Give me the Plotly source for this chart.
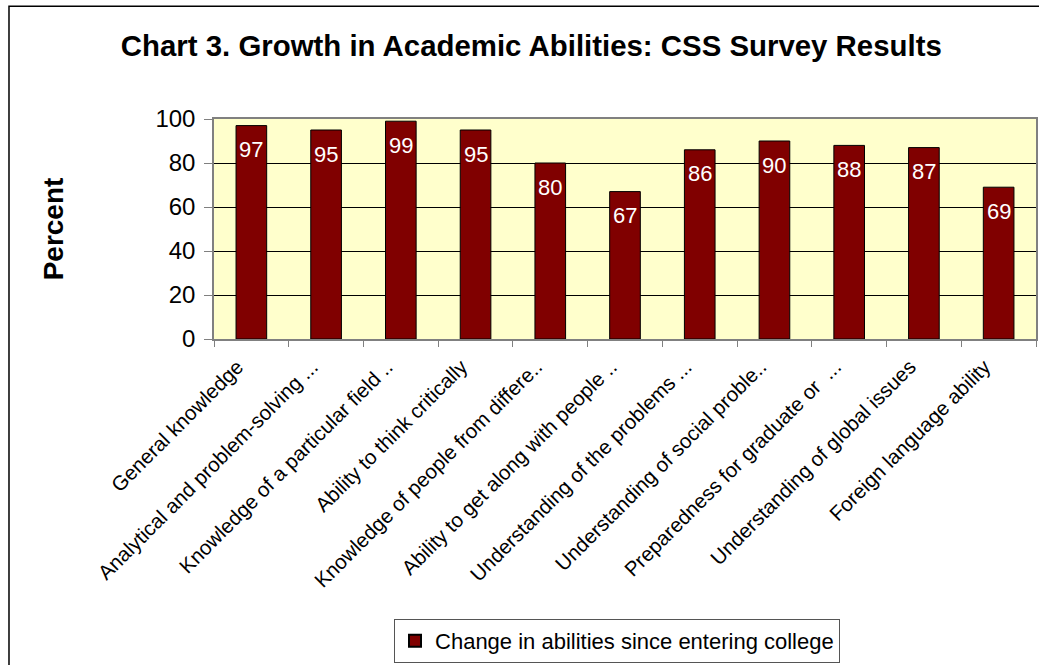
import plotly.graph_objects as go

# Survey categories (labels shortened as on the axis) and percentages
categories = [
    "General knowledge",
    "Analytical and problem-solving ...",
    "Knowledge of a particular field ..",
    "Ability to think critically",
    "Knowledge of people from differe..",
    "Ability to get along with people ..",
    "Understanding of the problems ...",
    "Understanding of social proble..",
    "Preparedness for graduate or  ...",
    "Understanding of global issues",
    "Foreign language ability",
]
percent = [97, 95, 99, 95, 80, 67, 86, 90, 88, 87, 69]
y_ticks = [0, 20, 40, 60, 80, 100]

FONT = "Liberation Sans, Arial, sans-serif"

fig = go.Figure()
fig.add_trace(go.Bar(
    x=categories,
    y=percent,
    name="Change in abilities since entering college",
    marker=dict(color="#800000", line=dict(color="#000000", width=1)),
    width=0.41,
))

# Value labels sitting just inside the top of each bar
for c, v in zip(categories, percent):
    fig.add_annotation(
        x=c, y=v, text=str(v), showarrow=False,
        yanchor="middle", yshift=-24,
        font=dict(family=FONT, size=22, color="#ffffff"),
    )

# Outer chart frame
fig.add_shape(
    type="rect", xref="paper", yref="paper",
    x0=-0.2494, x1=1.06, y0=-1.7, y1=1.513,
    line=dict(color="#000000", width=1.5), fillcolor="rgba(0,0,0,0)",
    layer="below",
)

fig.update_layout(
    width=1039, height=665,
    margin=dict(l=214, r=3, t=118.5, b=326, autoexpand=False),
    paper_bgcolor="#ffffff",
    plot_bgcolor="#ffffcc",
    font=dict(family=FONT, color="#000000"),
    title=dict(
        text="<b>Chart 3. Growth in Academic Abilities: CSS Survey Results</b>",
        x=0.386, xref="paper", xanchor="center",
        y=0.932, yref="container", yanchor="middle",
        font=dict(family=FONT, size=29.4, color="#000000"),
    ),
    bargap=0.59,
    showlegend=True,
    legend=dict(
        x=0.219, y=-1.272, xanchor="left", yanchor="top",
        xref="paper", yref="paper",
        bgcolor="#ffffff", bordercolor="#555555", borderwidth=1,
        font=dict(family=FONT, size=22, color="#000000"),
        itemsizing="constant",
    ),
)

fig.update_xaxes(
    type="category",
    tickangle=-45,
    tickfont=dict(family=FONT, size=20.5, color="#000000"),
    ticks="outside", ticklen=6, tickcolor="#808080",
    tickson="boundaries",
    ticklabelstandoff=6, ticklabelshift=-14,
    showline=True, linecolor="#808080", linewidth=1.5, mirror=True,
    showgrid=False,
    automargin=False,
)

fig.update_yaxes(
    range=[0, 100],
    tickvals=y_ticks,
    tickfont=dict(family=FONT, size=24, color="#000000"),
    ticks="outside", ticklen=8, tickcolor="#808080",
    ticklabelstandoff=4,
    showline=True, linecolor="#808080", linewidth=1.5, mirror=True,
    showgrid=True, gridcolor="#000000", gridwidth=1,
    zeroline=False,
    automargin=False,
    title=dict(text="<b>Percent</b>", font=dict(family=FONT, size=28, color="#000000"),
               standoff=84),
)

fig.write_html("out.html")
